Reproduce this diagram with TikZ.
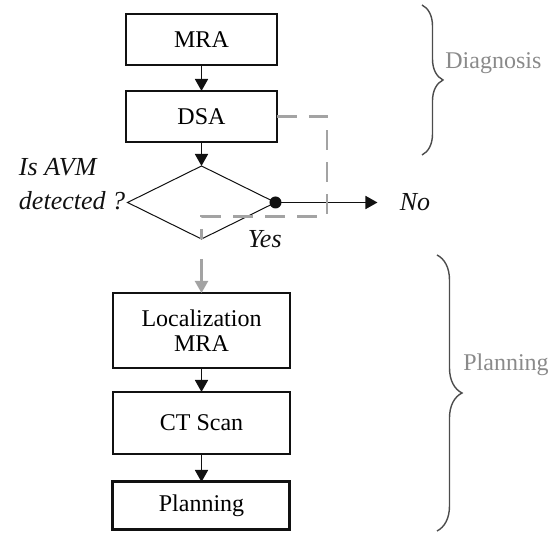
\documentclass[tikz,border=0pt]{standalone}
\usepackage{fontspec}
\setmainfont{Liberation Serif}
\usepackage{xcolor}
\usepackage{tikz}
\usetikzlibrary{arrows.meta,decorations.pathreplacing,positioning,shapes.geometric}
\definecolor{flowink}{HTML}{111111}
\definecolor{phasegray}{HTML}{8A8A8A}
\definecolor{loopgray}{HTML}{A3A3A3}

\begin{document}
\begin{tikzpicture}[
  x=0.5pt,y=-0.5pt,
  >={Triangle[length=6pt,width=6.5pt]},
  stepbox/.style={draw=flowink,line width=.7pt,minimum width=75.5pt,
    minimum height=25.5pt,align=center,inner sep=1pt,outer sep=0pt,
    font=\fontsize{12}{12.5}\selectfont},
  wide/.style={minimum width=88.5pt},
  decision/.style={draw=flowink,diamond,line width=.5pt,inner sep=0pt,
    outer sep=0pt,minimum width=74pt,minimum height=36.5pt},
  cond/.style={font=\fontsize{13}{17}\selectfont\itshape,inner sep=1pt,text=flowink},
  phase/.style={font=\fontsize{12}{14}\selectfont,text=phasegray,inner sep=1pt},
  flow/.style={->,flowink,line width=.8pt},
  feedback/.style={loopgray,line width=1.1pt,dash pattern=on 10pt off 6pt},
  bracket/.style={flowink!75,line width=.7pt,decorate}
]
  \useasboundingbox (0,0) rectangle (554,533);

  % diagnosis steps
  \node[stepbox] (mra) at (201.5,39.5) {MRA};
  \node[stepbox,below=13pt of mra] (dsa) {DSA};
  \node[decision,below=12pt of dsa] (avm) {};
  \node[cond,align=left,left=0pt of avm.west,yshift=9pt] (ask) {Is AVM\\detected ?};
  \node[cond,right=61pt of avm.east] (no) {No};
  \node[cond,right=22pt of avm.south] (yes) {Yes};

  % planning steps
  \node[stepbox,wide,minimum height=37.5pt,below=27pt of avm] (loc) {Localization\\MRA};
  \node[stepbox,wide,minimum height=31pt,below=12pt of loc] (ct) {CT Scan};
  \node[stepbox,wide,line width=1.5pt,minimum height=24pt,below=14pt of ct] (plan) {Planning};

  \draw[flow] (mra) -- (dsa);
  \draw[flow] (dsa) -- (avm);
  \draw[flow,shorten >=10pt] (avm.east) -- (no.west);
  \fill[flowink] (avm.east) circle (3pt);

  \coordinate[right=25pt of dsa.east] (turn);
  \draw[feedback] (dsa.east) -- (turn) |- ([yshift=-7pt]avm.east) -| (avm.south);
  \draw[->,loopgray,line width=1.1pt,shorten <=10pt] (avm.south) -- (loc.north);

  \draw[flow] (loc) -- (ct);
  \draw[flow] (ct) -- (plan);

  % phase braces
  \coordinate (dtop) at (422,5);
  \coordinate (dbot) at (422,155);
  \coordinate (ptop) at (437,255);
  \coordinate (pbot) at (437,531);
  \draw[bracket,decoration={brace,amplitude=10.5pt}] (dtop) -- (dbot);
  \draw[bracket,decoration={brace,amplitude=12.5pt}] (ptop) -- (pbot);
  \node[phase,anchor=west] (diag) at (443,63) {Diagnosis};
  \node[phase,anchor=west] (plphase) at (461,365) {Planning};
\end{tikzpicture}
\end{document}
